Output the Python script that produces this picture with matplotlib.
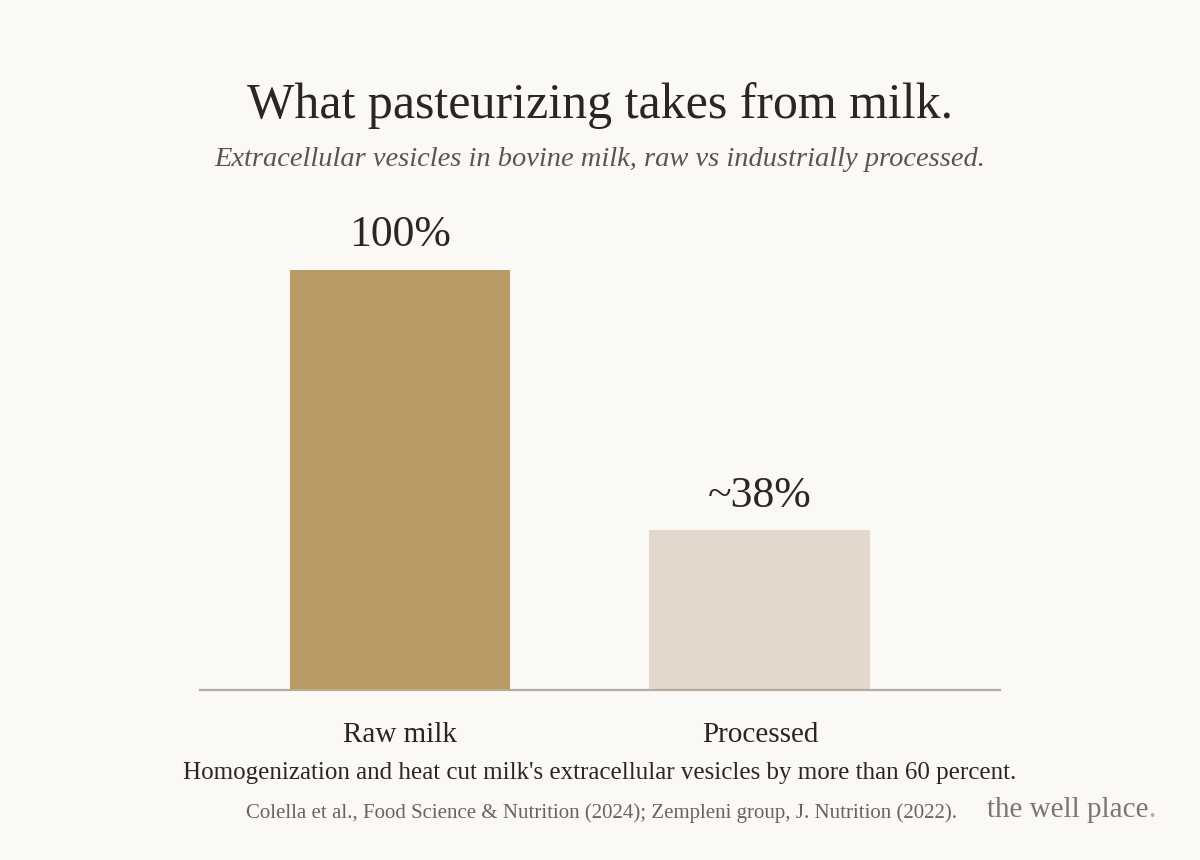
import matplotlib.pyplot as plt

# data
categories = ['Raw milk', 'Processed']
values = [100, 38]
value_labels = ['100%', '~38%']
bar_colors = ['#B89A65', '#E3D8CB']

title = 'What pasteurizing takes from milk.'
subtitle = 'Extracellular vesicles in bovine milk, raw vs industrially processed.'
note = "Homogenization and heat cut milk's extracellular vesicles by more than 60 percent."
source = 'Colella et al., Food Science & Nutrition (2024); Zempleni group, J. Nutrition (2022).'

bg = '#FAF9F6'
ink = '#2B2622'
serif = ['Liberation Serif', 'DejaVu Serif']

fig = plt.figure(figsize=(12, 8.6), dpi=100, facecolor=bg)
ax = fig.add_axes([200 / 1200, 170 / 860, 800 / 1200, 500 / 860])
ax.set_facecolor(bg)

x = range(len(categories))
ax.bar(x, values, width=221 / 360, color=bar_colors, zorder=2)
ax.set_xlim(-200 / 360, 1 + 240 / 360)
ax.set_ylim(0, 500 / 420 * 100)

for xi, v, lab in zip(x, values, value_labels):
    ax.text(xi, v + 3.5, lab, ha='center', va='bottom', fontsize=31.5,
            family=serif, color=ink)

for s in ['top', 'right', 'left']:
    ax.spines[s].set_visible(False)
ax.spines['bottom'].set_color('#B3ADA6')
ax.spines['bottom'].set_linewidth(1.6)
ax.set_yticks([])
ax.set_xticks(list(x))
ax.set_xticklabels(categories, fontsize=21, family=serif, color=ink)
ax.tick_params(axis='x', length=0, pad=23)

fig.text(0.5, 1 - 106 / 860, title, ha='center', va='center', fontsize=36,
         family=serif, color=ink)
fig.text(0.5, 1 - 160 / 860, subtitle, ha='center', va='center', fontsize=20.5,
         family=serif, style='italic', color='#5C544D')
fig.text(0.5, 1 - 773 / 860, note, ha='center', va='center', fontsize=18,
         family=serif, color=ink)
fig.text(957 / 1200, 1 - 813 / 860, source, ha='right', va='center', fontsize=15,
         family=serif, color='#6B635C')
logo = fig.text(987 / 1200, 1 - 810 / 860, 'the well place', ha='left', va='center',
                fontsize=21, family=serif, color='#7D756E')
plt.annotate('.', xy=(1, 0), xycoords=logo, ha='left', va='bottom',
             fontsize=21, family=serif, color='#C9A56B')

fig.savefig('out.png', dpi=100, facecolor=bg)
plt.close()
